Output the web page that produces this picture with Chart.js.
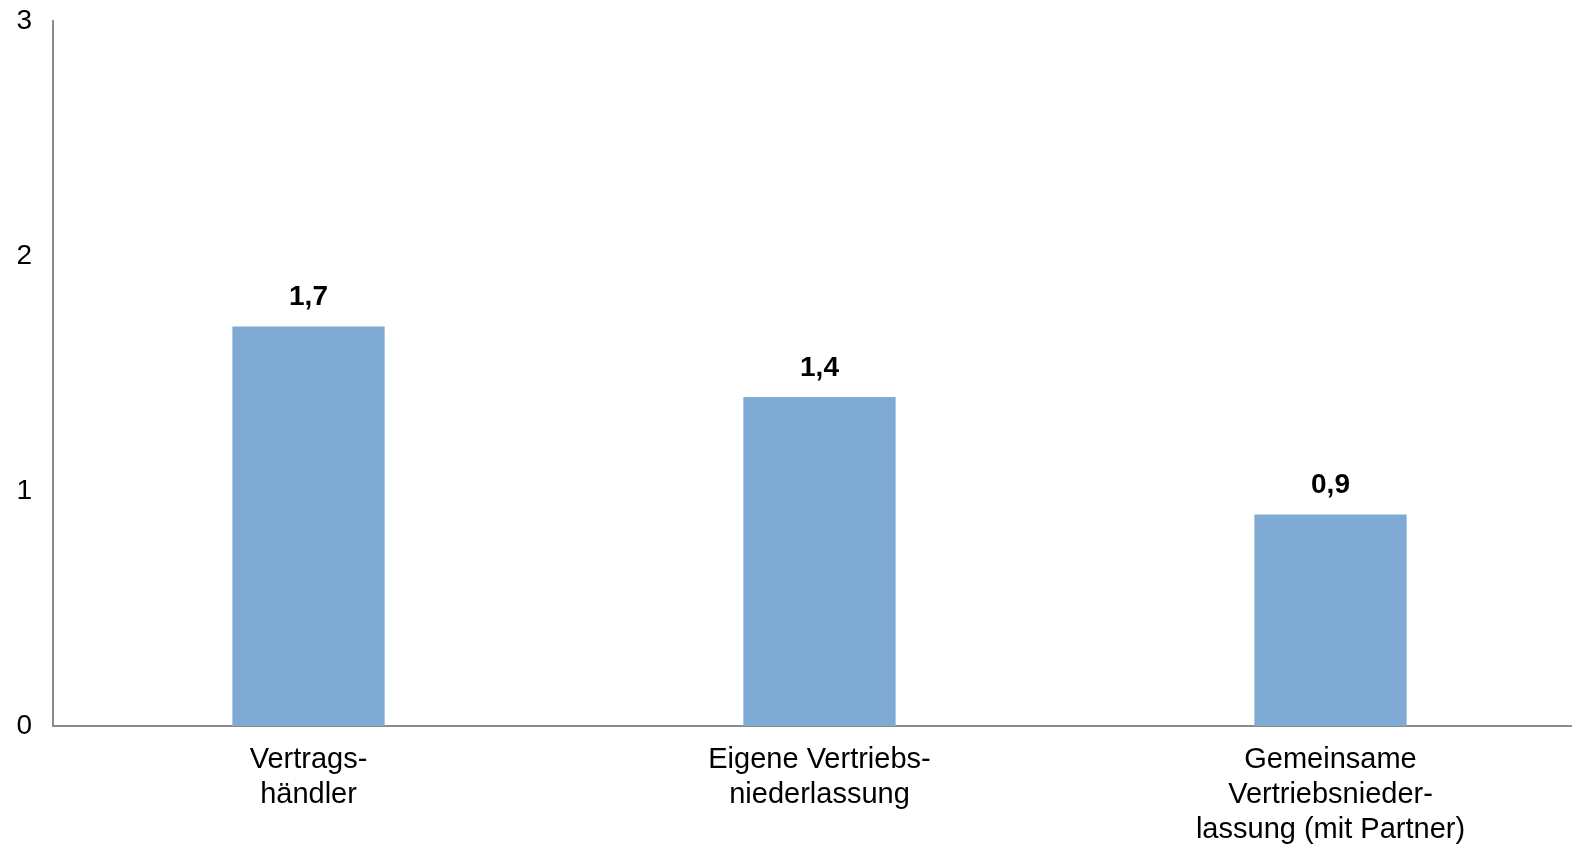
<!DOCTYPE html>
<html>
<head>
<meta charset="utf-8">
<script src="https://cdn.jsdelivr.net/npm/chart.js@4/dist/chart.umd.min.js"></script>
<style>
  html, body { margin: 0; padding: 0; background: #fff; overflow: hidden; }
  #wrap { width: 1572px; height: 849px; overflow: hidden; position: relative; }
  #box { width: 1586px; height: 849px; position: absolute; left: 0; top: 0; }
</style>
</head>
<body>
<div id="wrap"><div id="box"><canvas id="c"></canvas></div></div>
<script>
// Kategorien (mehrzeilige Beschriftung) und Werte
const categories = [
  ["Vertrags-", "händler"],
  ["Eigene Vertriebs-", "niederlassung"],
  ["Gemeinsame", "Vertriebsnieder-", "lassung (mit Partner)"]
];
const values = [1.7, 1.4, 0.9];
const yTicks = [0, 1, 2, 3];

const FONT = "'Liberation Sans', Arial, sans-serif";
const AXIS_COLOR = "#8c8c8c";
const BAR_COLOR = "#7eaad3";

// Wertbeschriftung über den Balken (deutsches Dezimalkomma)
const valueLabels = {
  id: "valueLabels",
  afterDatasetsDraw(chart) {
    const ctx = chart.ctx;
    const meta = chart.getDatasetMeta(0);
    ctx.save();
    ctx.font = "bold 28px " + FONT;
    ctx.fillStyle = "#000";
    ctx.textAlign = "center";
    ctx.textBaseline = "bottom";
    meta.data.forEach((bar, i) => {
      const txt = values[i].toFixed(1).replace(".", ",");
      ctx.fillText(txt, bar.x, bar.y - 15);
    });
    ctx.restore();
  }
};

new Chart(document.getElementById("c"), {
  type: "bar",
  data: {
    labels: categories,
    datasets: [{
      data: values,
      backgroundColor: BAR_COLOR,
      borderWidth: 0,
      barPercentage: 0.298,
      categoryPercentage: 1.0
    }]
  },
  options: {
    responsive: true,
    maintainAspectRatio: false,
    animation: false,
    layout: { padding: { top: 21, right: 0, bottom: 0, left: 0 } },
    plugins: { legend: { display: false }, tooltip: { enabled: false } },
    scales: {
      x: {
        grid: { display: false, drawTicks: false },
        border: { display: true, color: AXIS_COLOR, width: 2 },
        ticks: {
          color: "#000",
          font: { family: FONT, size: 29, lineHeight: 1.2 },
          padding: 17,
          maxRotation: 0,
          autoSkip: false
        },
        afterFit(scale) { scale.height = 123; }
      },
      y: {
        min: 0,
        max: 3,
        afterBuildTicks(scale) { scale.ticks = yTicks.map(v => ({ value: v })); },
        grid: { display: false, drawTicks: false },
        border: { display: true, color: AXIS_COLOR, width: 2 },
        ticks: {
          color: "#000",
          font: { family: FONT, size: 28 },
          padding: 21
        },
        afterFit(scale) {
          scale.width = 53;
          scale.paddingTop = 0;
        }
      }
    }
  },
  plugins: [valueLabels]
});
</script>
</body>
</html>
